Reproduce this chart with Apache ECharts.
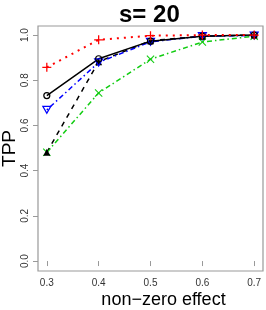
<!DOCTYPE html>
<html><head><meta charset="utf-8">
<script src="https://cdn.jsdelivr.net/npm/echarts@6/dist/echarts.min.js"></script>
<style>html,body{margin:0;padding:0;background:#fff}#c{width:266px;height:310px}</style>
</head><body><div id="c"></div>
<script>
var effects = [0.3, 0.4, 0.5, 0.6, 0.7];
var xTicks = [0.3, 0.4, 0.5, 0.6, 0.7];
var yTicks = [0, 0.2, 0.4, 0.6, 0.8, 1.0];
var redDotted = [0.857, 0.979, 0.997, 1.0, 1.0];
var blackSolid = [0.732, 0.895, 0.973, 0.995, 1.0];
var blueDashDot = [0.669, 0.879, 0.970, 0.995, 0.998];
var blackDashed = [0.481, 0.882, 0.975, 0.995, 1.0];
var greenDashDot = [0.481, 0.744, 0.893, 0.969, 0.995];

function pairs(v){ return effects.map(function(x,i){ return [x, v[i]]; }); }
var FONT = 'Liberation Sans, Arial, sans-serif';
var PLUS = 'path://M4.3,0 H5.7 V10 H4.3 Z M0,4.3 H10 V5.7 H0 Z';
var CROSS = 'path://M0.7,-0.3 L5,4 L9.3,-0.3 L10.3,0.7 L6,5 L10.3,9.3 L9.3,10.3 L5,6 L0.7,10.3 L-0.3,9.3 L4,5 L-0.3,0.7 Z';

var chart = echarts.init(document.getElementById('c'), null, {renderer:'canvas'});
chart.setOption({
  animation: false,
  backgroundColor: '#fff',
  title: {
    text: 's= 20', left: 119, top: 3, padding: 0,
    textStyle: {fontFamily: FONT, fontSize: 24, fontWeight: 'bold', color: '#000'}
  },
  grid: {left: 38, top: 26, width: 225, height: 245, show: true, borderColor: '#999', borderWidth: 1.2,
    backgroundColor: 'transparent', containLabel: false, outerBoundsMode: 'none'},
  xAxis: {
    type: 'value', min: 0.283, max: 0.717,
    name: 'non\u2212zero effect', nameLocation: 'middle', nameGap: 20, nameMoveOverlap: false,
    nameTextStyle: {fontFamily: FONT, fontSize: 18, color: '#000', padding: [0,0,0,26]},
    axisLine: {show: false},
    splitLine: {show: false},
    axisTick: {show: true, length: 5, customValues: xTicks, lineStyle: {color: '#999'}},
    axisLabel: {customValues: xTicks, fontFamily: FONT, fontSize: 10, color: '#333', margin: 7,
      formatter: function(v){ return v.toFixed(1); }}
  },
  yAxis: {
    type: 'value', min: -0.044, max: 1.04,
    name: 'TPP', nameLocation: 'middle', nameGap: 19, nameRotate: 90, nameMoveOverlap: false,
    nameTextStyle: {fontFamily: FONT, fontSize: 19, color: '#000'},
    axisLine: {show: false},
    splitLine: {show: false},
    axisTick: {show: true, length: 5, customValues: yTicks, lineStyle: {color: '#999'}},
    axisLabel: {customValues: yTicks, rotate: 90, fontFamily: FONT, fontSize: 10, color: '#333', margin: 8,
      formatter: function(v){ return v.toFixed(1); }}
  },
  series: [
    {type: 'line', data: pairs(greenDashDot), symbol: CROSS, symbolSize: 8,
      lineStyle: {color: '#11CC11', width: 1.5, type: [5,3,1.5,3]},
      itemStyle: {color: '#11CC11'}},
    {type: 'line', data: pairs(blackDashed), symbol: 'triangle', symbolSize: 7,
      lineStyle: {color: '#000', width: 1.5, type: [5,5]},
      itemStyle: {color: '#000'}},
    {type: 'line', data: pairs(blueDashDot), symbol: 'path://M0,0 L10,0 L5,9 Z', symbolSize: [8,7],
      lineStyle: {color: '#0000FF', width: 1.5, type: [1.5,3,5,3]},
      itemStyle: {color: 'rgba(0,0,0,0)', borderColor: '#0000FF', borderWidth: 1.2}},
    {type: 'line', data: pairs(blackSolid), symbol: 'circle', symbolSize: 6,
      lineStyle: {color: '#000', width: 1.5},
      itemStyle: {color: 'rgba(0,0,0,0)', borderColor: '#000', borderWidth: 1.2}},
    {type: 'line', data: pairs(redDotted), symbol: PLUS, symbolSize: 9,
      lineStyle: {color: '#FF0000', width: 2, type: [2,5]},
      itemStyle: {color: '#FF0000'}}
  ]
});
</script></body></html>
